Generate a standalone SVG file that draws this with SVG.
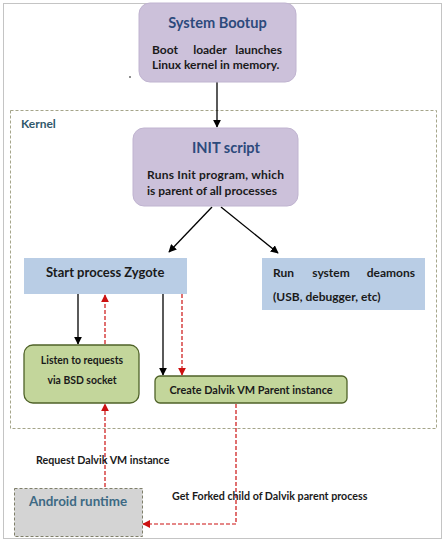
<svg xmlns="http://www.w3.org/2000/svg" width="445" height="541" viewBox="0 0 445 541">
<defs>
<style>
text{font-family:Lato,"Liberation Sans",sans-serif;font-weight:bold;}
.title{fill:#2d4a7c;font-size:14.6px;}
.body{fill:#1a1a1a;font-size:12px;}
.small{fill:#1a1a1a;font-size:10.7px;}
.purple{fill:#ccc1da;stroke:#c0b4d0;stroke-width:1;}
.blue{fill:#b9cde5;}
.green{fill:#c3d69b;stroke:#4f6228;stroke-width:1.3;}
.blk{stroke:#000;stroke-width:1.3;fill:none;}
.red{stroke:#cc1111;stroke-width:1.2;fill:none;stroke-dasharray:4 2;}
</style>
<marker id="ab" viewBox="0 0 10 10" refX="9" refY="5" markerWidth="8" markerHeight="8" markerUnits="userSpaceOnUse" orient="auto"><path d="M0,0 L10,5 L0,10 z" fill="#000"/></marker>
<marker id="ar" viewBox="0 0 10 10" refX="9" refY="5" markerWidth="8" markerHeight="8" markerUnits="userSpaceOnUse" orient="auto"><path d="M0,0 L10,5 L0,10 z" fill="#cc1111"/></marker>
</defs>
<rect x="0" y="0" width="445" height="541" fill="#fff"/>
<rect x="3.5" y="3.5" width="438" height="535" fill="none" stroke="#c4c4c4" stroke-width="1"/>
<g id="kernel">
<rect x="10.5" y="110.5" width="426" height="318" fill="none" stroke="#a5a58a" stroke-width="1" stroke-dasharray="3 2"/>
<text x="21" y="128" style="fill:#31596b;font-size:12px;">Kernel</text>
</g>
<circle cx="130" cy="77" r="0.8" fill="#000"/>
<g id="connectors">
<line class="blk" x1="217" y1="82" x2="217" y2="127" marker-end="url(#ab)"/>
<line class="blk" x1="212" y1="207" x2="169" y2="252" marker-end="url(#ab)"/>
<line class="blk" x1="221" y1="207" x2="278" y2="253" marker-end="url(#ab)"/>
<line class="blk" x1="78" y1="294" x2="78" y2="344" marker-end="url(#ab)"/>
<line class="red" x1="105" y1="344" x2="105" y2="295" marker-end="url(#ar)"/>
<line class="blk" x1="163" y1="294" x2="163" y2="375" marker-end="url(#ab)"/>
<line class="red" x1="182" y1="294" x2="182" y2="375" marker-end="url(#ar)"/>
<line class="red" x1="105" y1="487" x2="105" y2="404" marker-end="url(#ar)"/>
<polyline class="red" points="236,404 236,524 143,524" marker-end="url(#ar)"/>
<text class="small" x="36" y="464">Request Dalvik VM instance</text>
<text class="small" x="172" y="500">Get Forked child of Dalvik parent process</text>
</g>
<g id="bootup">
<rect class="purple" x="139" y="3" width="157" height="79" rx="11"/>
<text class="title" x="217.5" y="28" text-anchor="middle">System Bootup</text>
<text class="body" x="152" y="54">Boot</text>
<text class="body" x="210" y="54" text-anchor="middle">loader</text>
<text class="body" x="282" y="54" text-anchor="end">launches</text>
<text class="body" x="152" y="69">Linux kernel in memory.</text>
</g>
<g id="init">
<rect class="purple" x="133" y="128" width="165" height="78" rx="11"/>
<text class="title" x="226" y="153" text-anchor="middle">INIT script</text>
<text class="body" x="147" y="179" textLength="137">Runs Init program, which</text>
<text class="body" x="147" y="195">is parent of all processes</text>
</g>
<g id="zygote">
<rect class="blue" x="24" y="258" width="163" height="36"/>
<text x="46" y="277" style="fill:#1a1a1a;font-size:13px;">Start process Zygote</text>
</g>
<g id="daemons">
<rect class="blue" x="262" y="258" width="163" height="52"/>
<text class="body" x="273" y="277">Run</text>
<text class="body" x="331" y="277" text-anchor="middle">system</text>
<text class="body" x="415" y="277" text-anchor="end">deamons</text>
<text class="body" x="273" y="301">(USB, debugger, etc)</text>
</g>
<g id="listen">
<rect class="green" x="24" y="345" width="115" height="58" rx="9"/>
<text x="82" y="364" text-anchor="middle" style="fill:#1a1a1a;font-size:10.4px;">Listen to requests</text>
<text x="82" y="384" text-anchor="middle" style="fill:#1a1a1a;font-size:10.4px;">via BSD socket</text>
</g>
<g id="dalvik">
<rect class="green" x="155" y="376" width="192" height="27" rx="5"/>
<text x="251" y="394" text-anchor="middle" style="fill:#1a1a1a;font-size:10.9px;">Create Dalvik VM Parent instance</text>
</g>
<g id="runtime">
<rect x="14.5" y="488.5" width="128" height="48" fill="#d4d4d4" stroke="#7f7f6a" stroke-width="1" stroke-dasharray="3 2"/>
<text x="78" y="506" text-anchor="middle" style="fill:#3e6a84;font-size:13.4px;">Android runtime</text>
</g>
</svg>
